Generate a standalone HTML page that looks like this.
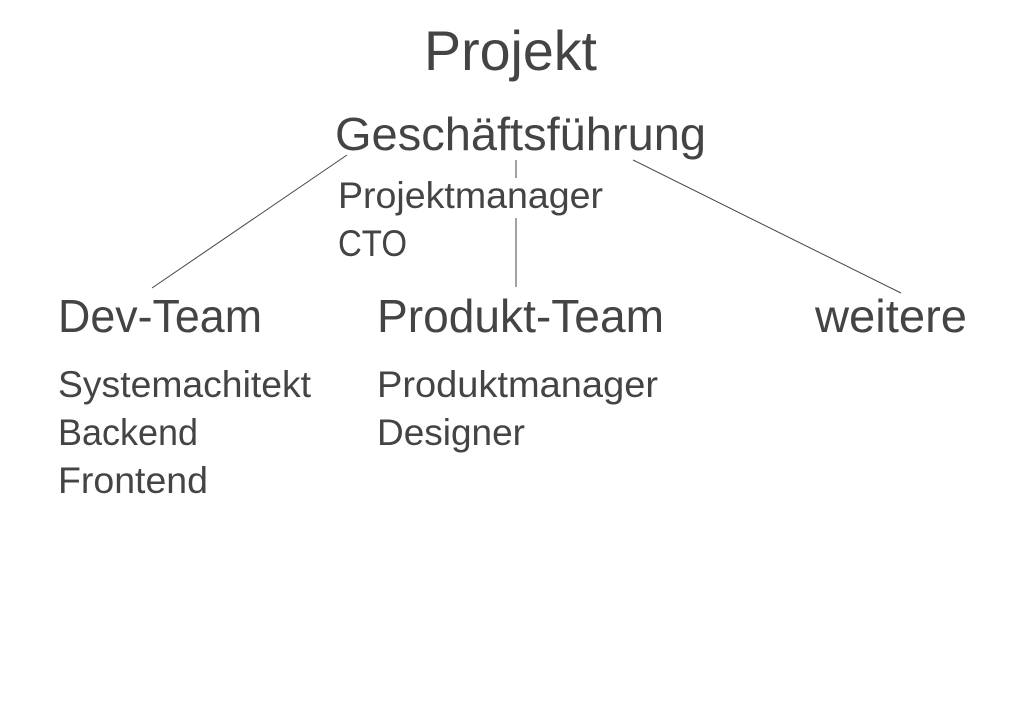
<!DOCTYPE html>
<html><head><style>html,body{margin:0;padding:0;background:#fff;}svg{display:block}</style></head>
<body>
<svg width="1024" height="720" xmlns="http://www.w3.org/2000/svg" font-family="Liberation Sans, sans-serif" fill="#444">
<g stroke="#444" stroke-width="1">
<line x1="347" y1="155" x2="152" y2="288"/>
<line x1="516" y1="160" x2="516" y2="178"/>
<line x1="516" y1="218" x2="516" y2="287"/>
<line x1="633" y1="160" x2="901" y2="293"/>
</g>
<text x="424" y="70" font-size="56" textLength="173" lengthAdjust="spacingAndGlyphs">Projekt</text>
<text x="335" y="150" font-size="46" textLength="371" lengthAdjust="spacingAndGlyphs">Geschäftsführung</text>
<text x="338" y="208" font-size="37" textLength="265" lengthAdjust="spacingAndGlyphs">Projektmanager</text>
<text x="338" y="256" font-size="37" textLength="69" lengthAdjust="spacingAndGlyphs">CTO</text>
<text x="58" y="332" font-size="46" textLength="204" lengthAdjust="spacingAndGlyphs">Dev-Team</text>
<text x="377" y="332" font-size="46" textLength="287" lengthAdjust="spacingAndGlyphs">Produkt-Team</text>
<text x="815" y="332" font-size="46" textLength="152" lengthAdjust="spacingAndGlyphs">weitere</text>
<text x="58" y="397" font-size="37" textLength="253" lengthAdjust="spacingAndGlyphs">Systemachitekt</text>
<text x="58" y="445" font-size="37" textLength="140" lengthAdjust="spacingAndGlyphs">Backend</text>
<text x="58" y="493" font-size="37" textLength="150" lengthAdjust="spacingAndGlyphs">Frontend</text>
<text x="377" y="397" font-size="37" textLength="281" lengthAdjust="spacingAndGlyphs">Produktmanager</text>
<text x="377" y="445" font-size="37" textLength="148" lengthAdjust="spacingAndGlyphs">Designer</text>
</svg>
</body></html>
